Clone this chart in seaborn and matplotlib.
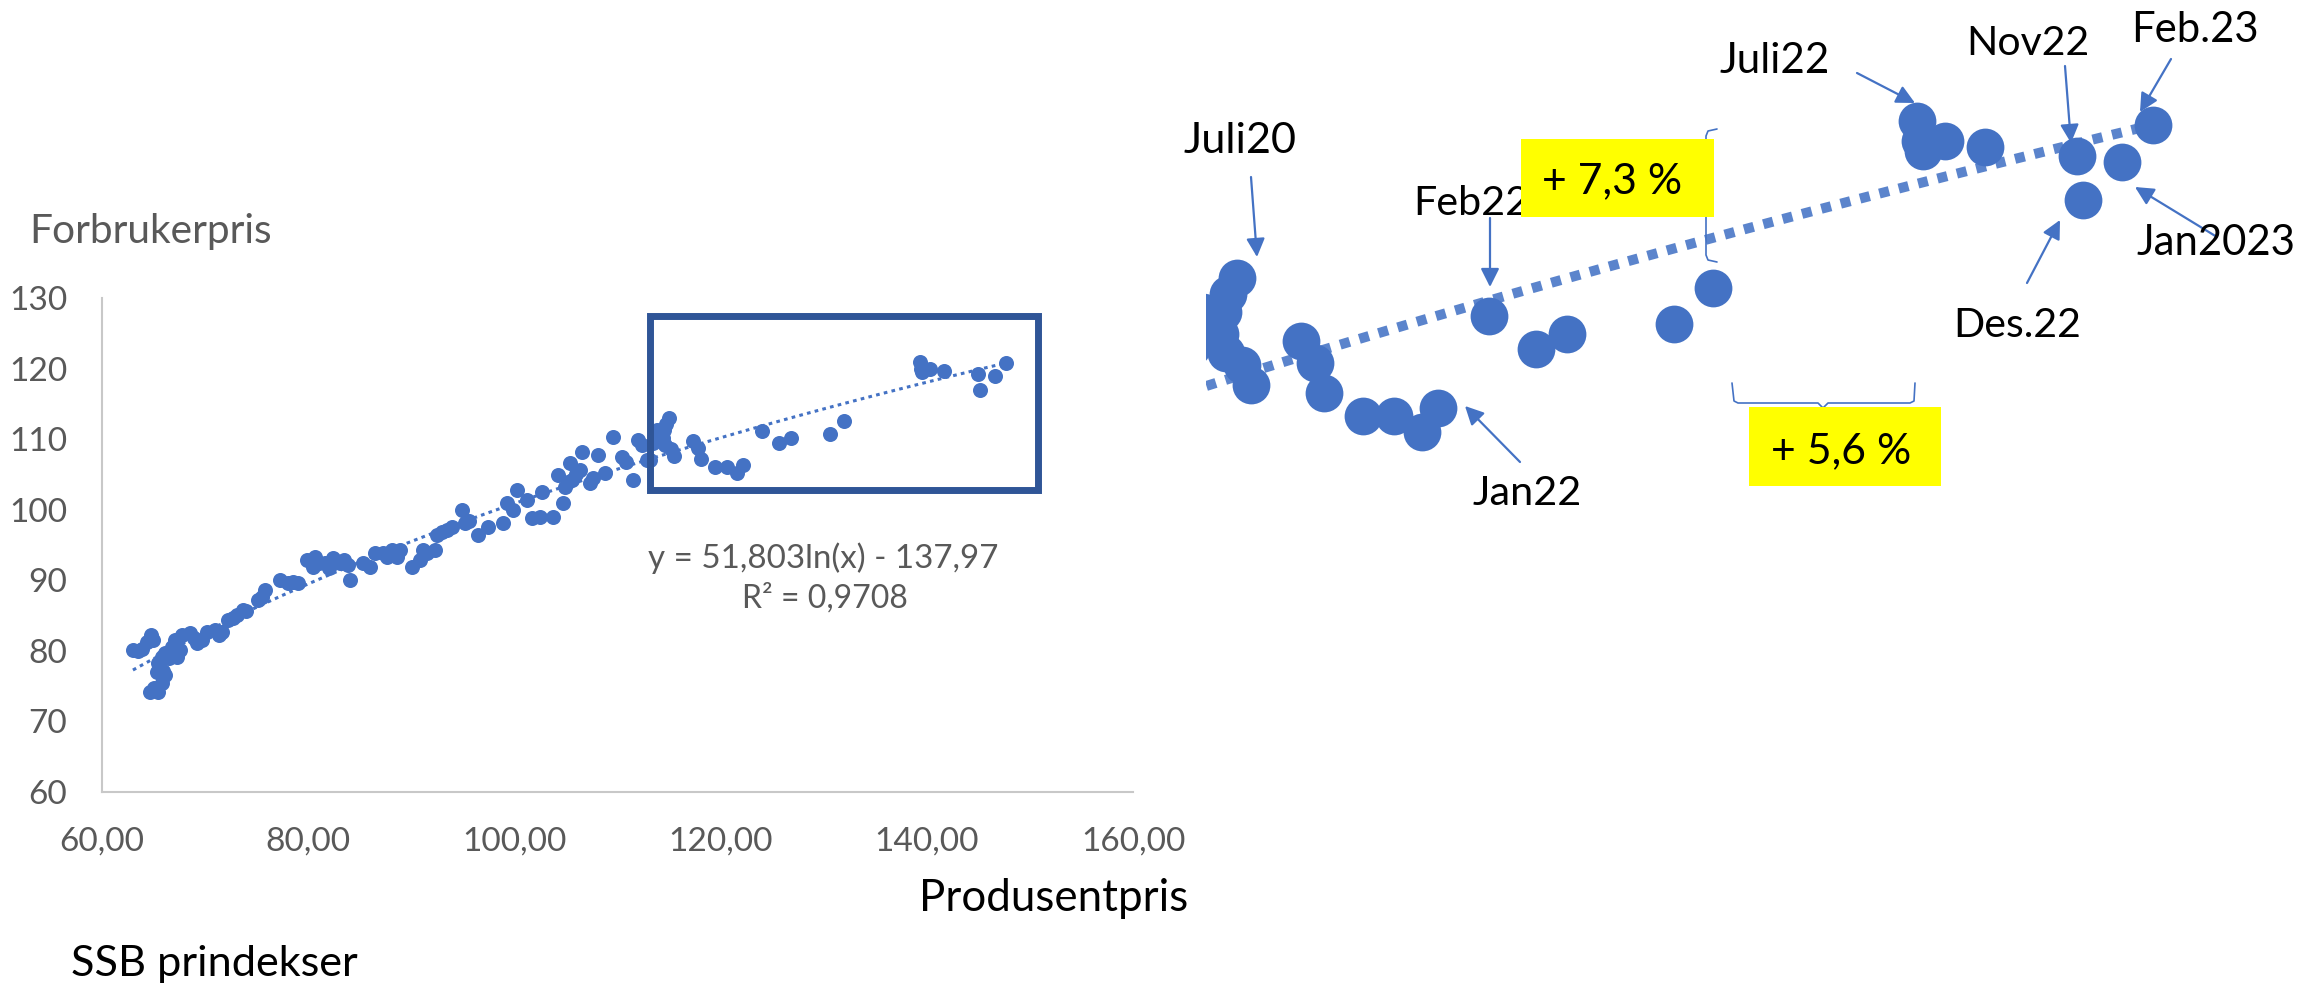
import matplotlib
matplotlib.use('Agg')
import matplotlib.pyplot as plt
import seaborn as sns
from matplotlib.lines import Line2D
from matplotlib.patches import Rectangle

# ── data ──────────────────────────────────────────────────────────────────
PRODUSENT = [
    63.0, 63.5, 63.9, 64.4, 64.8, 64.9, 64.7, 65.4, 65.0, 65.8, 66.1, 65.3, 65.9,
    65.4, 65.8, 66.1, 66.5, 66.8, 67.3, 67.6, 67.1, 67.8, 68.5, 68.9, 69.2, 69.7,
    70.2, 71.0, 71.6, 71.3, 72.2, 72.7, 73.1, 73.7, 74.0, 75.1, 75.5, 75.8, 77.3,
    78.0, 78.5, 79.0, 79.9, 80.7, 80.5, 81.0, 81.6, 82.0, 82.4, 83.1, 83.5, 83.9,
    84.1, 85.3, 86.0, 86.5, 87.3, 87.6, 88.1, 88.6, 88.9, 90.1, 90.8, 91.1, 91.5,
    92.3, 92.5, 93.0, 93.5, 93.9, 94.9, 95.2, 95.6, 96.5, 97.4, 98.9, 99.3, 99.9,
    100.3, 101.2, 101.7, 102.5, 102.7, 103.7, 104.2, 104.7, 104.9, 105.2, 105.4,
    105.6, 106.0, 106.4, 106.6, 107.3, 107.6, 108.1, 108.8, 109.6, 110.4, 110.8,
    111.5, 112.0, 112.4, 112.9, 113.2, 113.4, 113.6, 113.8,
    115.0, 114.7, 114.5, 114.4, 114.6, 115.2, 115.5,
    117.3, 117.8, 118.1, 119.5, 120.6, 121.6, 122.2,
    124.0, 125.7, 126.8, 130.6, 132.0,
    139.3, 139.4, 139.5, 140.3, 141.7,
    145.0, 145.2, 146.6, 147.7,
]
FORBRUKER = [
    80.1, 80.0, 80.3, 81.3, 82.3, 81.6, 74.2, 74.2, 74.8, 75.5, 76.6, 77.0, 77.2,
    78.3, 79.2, 79.7, 79.0, 80.6, 79.2, 80.1, 81.6, 82.3, 82.6, 81.8, 81.1, 81.6,
    82.7, 83.0, 82.7, 82.2, 84.4, 84.6, 85.1, 85.8, 85.6, 87.2, 87.6, 88.6, 90.1,
    89.6, 89.8, 89.6, 92.9, 93.3, 91.9, 92.4, 92.5, 91.8, 93.2, 92.5, 92.9, 92.2,
    90.1, 92.5, 91.9, 93.9, 93.9, 93.3, 94.3, 93.3, 94.3, 91.9, 92.9, 94.3, 93.8,
    94.3, 96.4, 96.8, 97.1, 97.6, 100.0, 98.1, 98.4, 96.4, 97.6, 98.1, 101.0, 100.0,
    102.8, 101.4, 98.8, 99.0, 102.5, 99.0, 104.9, 101.0, 103.2, 103.9, 106.6,
    104.2, 105.0, 105.6, 108.2, 103.8, 104.5, 107.8, 105.2, 110.3, 107.5, 106.8,
    104.2, 109.9, 109.2, 107.1, 107.1, 109.5, 110.4, 111.3,
    113.0, 112.2, 111.3, 110.2, 109.2, 108.6, 107.6,
    109.8, 108.7, 107.2, 106.0, 106.0, 105.2, 106.4,
    111.1, 109.4, 110.2, 110.7, 112.5,
    121.0, 120.0, 119.5, 120.0, 119.7,
    119.2, 117.0, 118.9, 120.8,
]

Y_TICKS = [60, 70, 80, 90, 100, 110, 120, 130]
X_TICKS = [60, 80, 100, 120, 140, 160]
X_TICK_LABELS = ['60,00', '80,00', '100,00', '120,00', '140,00', '160,00']

EQUATION = 'y = 51,803ln(x) - 137,97'
R_SQUARED = 'R² = 0,9708'

# labels on the zoomed panel: (text, text pos, width, arrow start, arrow tip) in px
MONTH_LABELS = [
    ('Juli20',  (1240, 153), 113, (1251, 177), (1257, 257)),
    ('Juli22',  (1775, 73),  110, (1857, 73),  (1915, 103)),
    ('Nov22',   (2028, 55),  123, (2065, 66),  (2071, 143)),
    ('Feb.23',  (2195, 42),  127, (2171, 59),  (2140, 112)),
    ('Jan2023', (2216, 255), 159, (2217, 237), (2135, 187)),
    ('Des.22',  (2017, 337), 128, (2027, 283), (2060, 220)),
    ('Jan22',   (1527, 505), 109, (1520, 462), (1465, 406)),
]

BLUE = '#4472C4'
GREY = '#595959'
W, H = 2321, 983


def fp(x, y):
    """full-image pixel (top-left origin) -> figure fraction"""
    return x / W, 1 - y / H


sns.set_theme(style='white')
plt.rcParams['font.family'] = ['Lato', 'DejaVu Sans']

fig = plt.figure(figsize=(W / 100, H / 100), dpi=100)
renderer = fig.canvas.get_renderer()


def fit(t, width_px):
    """scale a text's font so it spans the width measured on the reference"""
    w = t.get_window_extent(renderer).width
    t.set_fontsize(t.get_fontsize() * width_px / w)
    return t


def fitted_size(text, width_px):
    tmp = fig.text(0, 0, text, fontsize=30)
    size = 30 * width_px / tmp.get_window_extent(renderer).width
    tmp.remove()
    return size


# ── left: full scatter ────────────────────────────────────────────────────
ax = fig.add_axes([102 / W, 1 - 792 / H, (1133 - 102) / W, (792 - 298) / H])
sns.scatterplot(x=PRODUSENT, y=FORBRUKER, ax=ax, s=117, color=BLUE,
                linewidth=0, zorder=3)
sns.regplot(x=PRODUSENT, y=FORBRUKER, ax=ax, logx=True, scatter=False, ci=None,
            line_kws=dict(color=BLUE, lw=2.2, linestyle=(0, (1.2, 1.4)), zorder=2))
ax.set_xlim(60, 160)
ax.set_ylim(60, 130)
ax.set_xticks(X_TICKS)
ax.set_xticklabels(X_TICK_LABELS)
ax.set_yticks(Y_TICKS)
ax.set_xlabel('')
ax.set_ylabel('')
tick_size = fitted_size('60,00', 85)
ax.tick_params(axis='both', length=0, labelsize=tick_size, labelcolor=GREY)
ax.tick_params(axis='x', pad=25)
ax.tick_params(axis='y', pad=25)
for side in ['top', 'right']:
    ax.spines[side].set_visible(False)
for side in ['left', 'bottom']:
    ax.spines[side].set_color('#C8C8C8')
    ax.spines[side].set_linewidth(1.5)

ax.add_patch(Rectangle((113.15, 102.73), 150.8 - 113.15, 127.45 - 102.73,
                       fill=False, edgecolor='#2F5597', lw=5, clip_on=False, zorder=4))

fit(fig.text(*fp(823, 568), EQUATION, ha='center', va='baseline', fontsize=27, color=GREY), 350)
fit(fig.text(*fp(825, 608), R_SQUARED, ha='center', va='baseline', fontsize=27, color=GREY), 166)
fit(fig.text(*fp(29, 243), 'Forbrukerpris', ha='left', va='baseline', fontsize=28, color=GREY), 243)
fit(fig.text(*fp(1054, 911), 'Produsentpris', ha='center', va='baseline', fontsize=28, color='black'), 269)
fit(fig.text(*fp(71, 976), 'SSB prindekser', ha='left', va='baseline', fontsize=29, color='black'), 287)

# ── right: magnified view of the boxed area ───────────────────────────────
ax2 = fig.add_axes([1206 / W, 1 - 487 / H, (2245 - 1206) / W, 487 / H])
sns.scatterplot(x=PRODUSENT, y=FORBRUKER, ax=ax2, s=740, color=BLUE,
                linewidth=0, zorder=3)
sns.regplot(x=PRODUSENT, y=FORBRUKER, ax=ax2, logx=True, scatter=False, ci=None,
            line_kws=dict(color='#5B84CC', lw=7.2, linestyle=(0, (1, 1)),
                          solid_capstyle='butt', zorder=2))
ax2.set_xlim(113.9, 151.0)
ax2.set_ylim(102.4, 127.15)
ax2.axis('off')

arrow_kw = dict(arrowstyle='-|>', color=BLUE, lw=1.6, mutation_scale=28,
                shrinkA=0, shrinkB=0)
for text, pos, width, start, tip in MONTH_LABELS:
    fit(fig.text(*fp(*pos), text, ha='center', va='baseline', fontsize=30, color='black'), width)
    ax2.annotate('', xy=fp(*tip), xycoords='figure fraction',
                 xytext=fp(*start), textcoords='figure fraction',
                 annotation_clip=False, arrowprops=arrow_kw)
# Feb22 sits partly under the yellow box
fit(fig.text(*fp(1413, 215), 'Feb22', ha='left', va='baseline', fontsize=30, color='black'), 116)
ax2.annotate('', xy=fp(1490, 287), xycoords='figure fraction',
             xytext=fp(1490, 218), textcoords='figure fraction',
             annotation_clip=False, arrowprops=arrow_kw)

# braces
vx = [1717, 1708, 1706, 1706, 1700, 1706, 1706, 1708, 1717]
vy = [129, 131, 136, 190, 196, 202, 255, 260, 262]
hx = [1732, 1734, 1738, 1818, 1823, 1828, 1910, 1914, 1915]
hy = [383, 401, 403, 403, 408, 403, 403, 401, 383]
for xs, ys in [(vx, vy), (hx, hy)]:
    fig.add_artist(Line2D([x / W for x in xs], [1 - y / H for y in ys],
                          color=BLUE, lw=1.2, transform=fig.transFigure, zorder=5))

# yellow boxes
for (x0, y0, x1, y1), label, base in [((1521, 139, 1714, 217), '+ 7,3 %', (1542, 193)),
                                      ((1749, 407, 1941, 486), '+ 5,6 %', (1771, 463))]:
    fig.add_artist(Rectangle(fp(x0, y1), (x1 - x0) / W, (y1 - y0) / H,
                             facecolor='#FFFF00', edgecolor='none',
                             transform=fig.transFigure, zorder=6))
    fit(fig.text(*fp(*base), label, ha='left', va='baseline', fontsize=31,
                 color='black', zorder=7), 140)

fig.savefig('out.png', dpi=100)
plt.close(fig)
